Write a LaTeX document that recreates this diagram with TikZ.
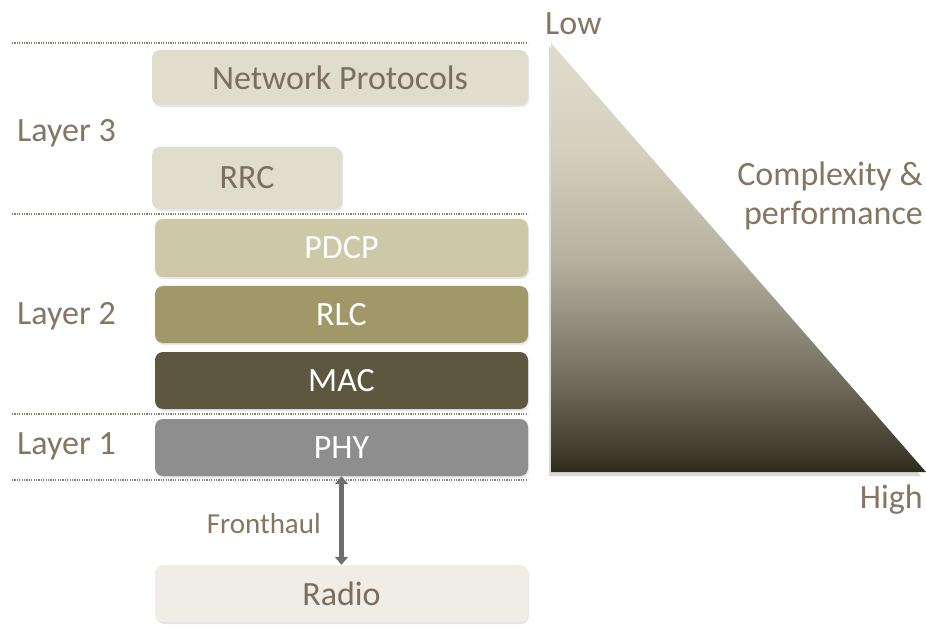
\documentclass[tikz,border=0pt]{standalone}
\usepackage{fontspec}
\setmainfont{Carlito}
\usetikzlibrary{shadows,arrows.meta}
\definecolor{lightbox}{HTML}{E0DDCD}
\definecolor{pdcpc}{HTML}{CDC8A8}
\definecolor{rlcc}{HTML}{A09868}
\definecolor{macc}{HTML}{5C573E}
\definecolor{phyc}{HTML}{8E8E8E}
\definecolor{radioc}{HTML}{EFEDE6}
\definecolor{txtc}{HTML}{857563}
\definecolor{boxtxt}{HTML}{7B6E5E}
\definecolor{arrowc}{HTML}{6E6E6E}
\definecolor{dotc}{HTML}{8A8070}
\definecolor{tritop}{HTML}{E0DDCD}
\definecolor{tria}{HTML}{D3D0BE}
\definecolor{trib}{HTML}{B5B2A0}
\definecolor{tric}{HTML}{7A7767}
\definecolor{trid}{HTML}{3E3B2C}
\definecolor{tribot}{HTML}{2C2A18}
\pgfdeclareverticalshading{trishade}{100bp}{color(0bp)=(tribot); color(25bp)=(tribot); color(27bp)=(trid); color(37.5bp)=(tric); color(50bp)=(trib); color(62.5bp)=(tria); color(75bp)=(tritop); color(100bp)=(tritop)}
\begin{document}
\begin{tikzpicture}[x=1pt,y=-1pt,
  layerbox/.style={rounded corners=8pt, inner sep=0pt, font=\fontsize{34}{36}\selectfont,
     drop shadow={opacity=0.2, shadow xshift=1pt, shadow yshift=-2pt}},
  lbl/.style={text=txtc, font=\fontsize{34}{36}\selectfont, anchor=west, inner sep=0pt},
  sep/.style={dotc, line width=1.2pt, dash pattern=on 1.2pt off 1.2pt}
]
\useasboundingbox (0,0) rectangle (926,628);
% separators
\coordinate (s1a) at (12,43);  \coordinate (s1b) at (528,43);
\coordinate (s2a) at (12,214); \coordinate (s2b) at (528,214);
\coordinate (s3a) at (12,414); \coordinate (s3b) at (528,414);
\coordinate (s4a) at (12,480); \coordinate (s4b) at (528,480);
\draw[sep] (s1a) -- (s1b);
\draw[sep] (s2a) -- (s2b);
\draw[sep] (s3a) -- (s3b);
\draw[sep] (s4a) -- (s4b);
% boxes
\node[layerbox, fill=lightbox, text=boxtxt, minimum width=376pt, minimum height=55pt] (np) at (340,77.5) {Network Protocols};
\node[layerbox, fill=lightbox, text=boxtxt, minimum width=190pt, minimum height=62pt] (rrc) at (247,178) {RRC};
\node[layerbox, fill=pdcpc, text=white, minimum width=373pt, minimum height=58pt] (pdcp) at (341.5,248) {PDCP};
\node[layerbox, fill=rlcc, text=white, minimum width=373pt, minimum height=57pt] (rlc) at (341.5,314.5) {RLC};
\node[layerbox, fill=macc, text=white, minimum width=373pt, minimum height=57pt] (mac) at (341.5,380.5) {MAC};
\node[layerbox, fill=phyc, text=white, minimum width=373pt, minimum height=57pt] (phy) at (341.5,447.5) {PHY};
\node[layerbox, fill=radioc, text=boxtxt, minimum width=373pt, minimum height=57pt] (radio) at (341.5,593.5) {Radio};
% arrow
\draw[arrowc, line width=5pt, {Triangle[length=8pt,width=13pt]}-{Triangle[length=8pt,width=13pt]}] (phy.south) -- (radio.north);
\node[text=txtc, font=\fontsize{29}{31}\selectfont, anchor=east, inner sep=0pt] (fh) at (321,524) {Fronthaul};
% layer labels
\node[lbl] (l3) at (17,133) {Layer 3};
\node[lbl] (l2) at (17,316) {Layer 2};
\node[lbl] (l1) at (17,446) {Layer 1};
% triangle
\coordinate (ta) at (551,43);
\coordinate (tb) at (551,472);
\coordinate (tc) at (926,472);
\coordinate (sa) at (549,46);
\coordinate (sb) at (549,476);
\coordinate (sc) at (921,476);
\fill[black, opacity=0.15] (sa) -- (sb) -- (sc) -- cycle;
\shade[shading=trishade] (ta) -- (tb) -- (tc) -- cycle;
\node[text=txtc, font=\fontsize{34}{36}\selectfont, anchor=west, inner sep=0pt] (low) at (545,24) {Low};
\node[text=txtc, font=\fontsize{34}{36}\selectfont, anchor=east, inner sep=0pt] (high) at (923,500) {High};
\node[text=txtc, font=\fontsize{34}{36}\selectfont, anchor=east, inner sep=0pt] (cp1) at (923,176) {Complexity \&};
\node[text=txtc, font=\fontsize{34}{36}\selectfont, anchor=east, inner sep=0pt] (cp2) at (923,216) {performance};
\end{tikzpicture}
\end{document}
